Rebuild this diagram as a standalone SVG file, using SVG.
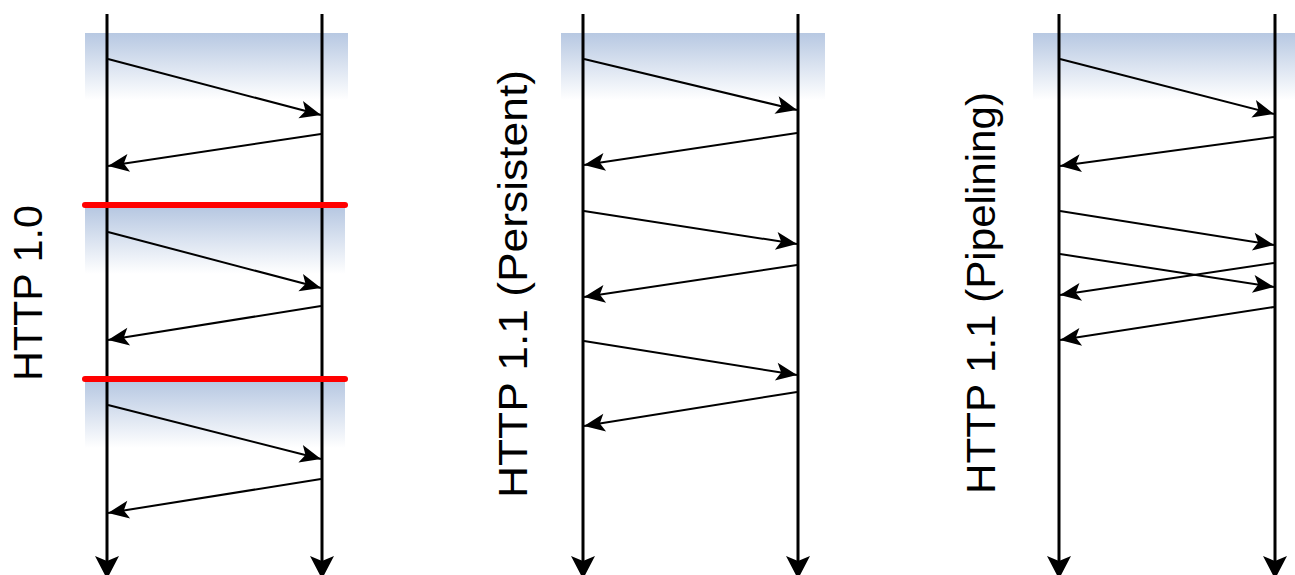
<svg xmlns="http://www.w3.org/2000/svg" width="1295" height="575" viewBox="0 0 1295 575">
<style>
.life{stroke:#000;stroke-width:3;fill:none;marker-end:url(#lifeHead)}
.msg{stroke:#000;stroke-width:2;fill:none;marker-end:url(#msgHead)}
.sep{stroke:#ff0000;stroke-width:6;stroke-linecap:round}
.band{fill:url(#bandGrad)}
.lbl{font-family:"Liberation Sans",Arial,sans-serif;font-size:40px;fill:#000;text-anchor:middle}
</style>
<defs>
<linearGradient id="bandGrad" x1="0" y1="0" x2="0" y2="1">
<stop offset="0" stop-color="#b7c8e2"/>
<stop offset="1" stop-color="#ffffff"/>
</linearGradient>
<marker id="msgHead" markerUnits="userSpaceOnUse" markerWidth="26" markerHeight="22" viewBox="-22 -11 24 22" refX="0" refY="0" orient="auto">
<path d="M0,0 L-21,-9 L-16,0 L-21,9 Z" fill="#000"/>
</marker>
<marker id="lifeHead" markerUnits="userSpaceOnUse" markerWidth="28" markerHeight="28" viewBox="-24 -14 26 28" refX="0" refY="0" orient="auto">
<path d="M0,0 L-23,-12 L-18,0 L-23,12 Z" fill="#000"/>
</marker>
</defs>
<rect width="1295" height="575" fill="#fff"/>

<g id="http10">
<rect class="band" x="85" y="33" width="263" height="67"/>
<rect class="band" x="85" y="208" width="260" height="66"/>
<rect class="band" x="85" y="382" width="260" height="66"/>
<text class="lbl" transform="translate(42,293) rotate(-90)" textLength="176" lengthAdjust="spacingAndGlyphs">HTTP 1.0</text>
</g>

<g id="http11persistent">
<rect class="band" x="561" y="33" width="264" height="67"/>
<text class="lbl" transform="translate(527,284) rotate(-90)" textLength="428" lengthAdjust="spacingAndGlyphs">HTTP 1.1 (Persistent)</text>
</g>

<g id="http11pipelining">
<rect class="band" x="1033" y="33" width="262" height="67"/>
<text class="lbl" transform="translate(995,293) rotate(-90)" textLength="402" lengthAdjust="spacingAndGlyphs">HTTP 1.1 (Pipelining)</text>
</g>

<g id="connectors">
<line class="life" x1="107" y1="14" x2="107" y2="579"/>
<line class="life" x1="322" y1="14" x2="322" y2="579"/>
<line class="life" x1="583" y1="14" x2="583" y2="579"/>
<line class="life" x1="798" y1="14" x2="798" y2="579"/>
<line class="life" x1="1059" y1="14" x2="1059" y2="579"/>
<line class="life" x1="1275" y1="14" x2="1275" y2="579"/>

<line class="sep" x1="85" y1="205" x2="345" y2="205"/>
<line class="sep" x1="85" y1="379" x2="345" y2="379"/>

<line class="msg" x1="108" y1="59" x2="321" y2="115"/>
<line class="msg" x1="321" y1="134" x2="108" y2="166"/>
<line class="msg" x1="108" y1="232" x2="321" y2="288"/>
<line class="msg" x1="321" y1="306" x2="108" y2="340"/>
<line class="msg" x1="108" y1="405" x2="321" y2="459"/>
<line class="msg" x1="321" y1="479" x2="108" y2="513"/>

<line class="msg" x1="584" y1="59" x2="797" y2="110"/>
<line class="msg" x1="797" y1="133" x2="584" y2="165"/>
<line class="msg" x1="584" y1="211" x2="797" y2="244"/>
<line class="msg" x1="797" y1="265" x2="584" y2="297"/>
<line class="msg" x1="584" y1="341" x2="797" y2="375"/>
<line class="msg" x1="797" y1="392" x2="584" y2="426"/>

<line class="msg" x1="1060" y1="59" x2="1274" y2="114"/>
<line class="msg" x1="1274" y1="137" x2="1060" y2="166"/>
<line class="msg" x1="1060" y1="211" x2="1274" y2="245"/>
<line class="msg" x1="1060" y1="254" x2="1274" y2="287"/>
<line class="msg" x1="1274" y1="263" x2="1060" y2="295"/>
<line class="msg" x1="1274" y1="307" x2="1060" y2="340"/>
</g>
</svg>
